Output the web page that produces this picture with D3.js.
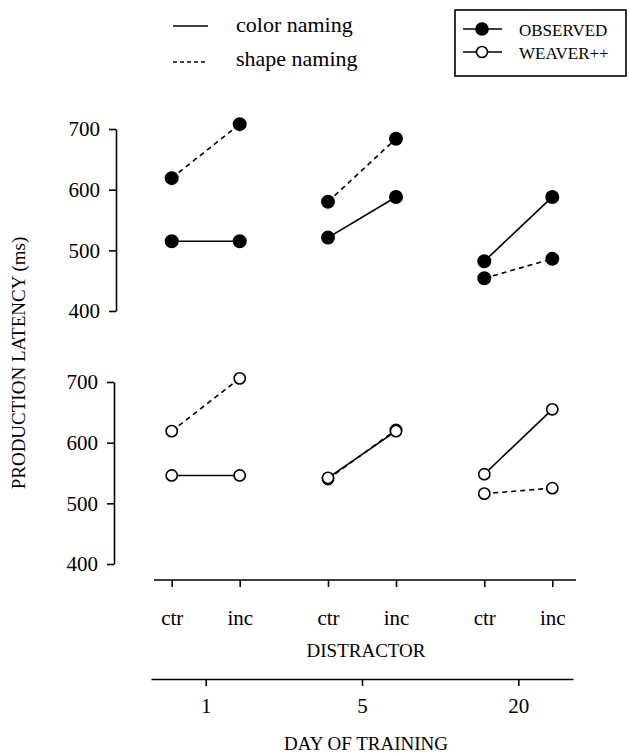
<!DOCTYPE html>
<html>
<head>
<meta charset="utf-8">
<script src="https://cdn.jsdelivr.net/npm/d3@7"></script>
<style>
  body { margin: 0; background: #fff; }
  svg { font-family: "Liberation Serif", "Times New Roman", serif; }
</style>
</head>
<body>
<svg width="629" height="753"></svg>
<script>
// days of training and distractor conditions
var days = ["1", "5", "20"];
var distractors = ["ctr", "inc"];
var yTicks = [400, 500, 600, 700];

// latencies per day: [ctr, inc]
var observedColor = [[515, 515], [521, 588], [482, 588]];
var observedShape = [[619, 708], [580, 684], [454, 486]];
var weaverColor   = [[546, 546], [542, 619], [548, 655]];
var weaverShape   = [[619, 706], [540, 621], [516, 525]];

var svg = d3.select("svg");

var xDay = d3.scalePoint().domain(days).range([151, 573]).padding(0.35);
var xDis = d3.scalePoint().domain(distractors).range([-34, 34]);

var yTop = d3.scaleLinear().domain([400, 700]).range([311, 129]);
var yBot = d3.scaleLinear().domain([400, 700]).range([564, 382]);

function drawAxisY(scale, x) {
  var g = svg.append("g")
    .attr("transform", "translate(" + x + ",0)")
    .call(d3.axisLeft(scale).tickValues(yTicks).tickSize(7).tickSizeOuter(0).tickPadding(9));
  g.selectAll("path, line").attr("stroke", "#000").attr("stroke-width", 1.6);
  g.selectAll("text").attr("font-size", 21).attr("font-family", "Liberation Serif").attr("fill", "#000");
}
drawAxisY(yTop, 116);
drawAxisY(yBot, 114);

function drawSeries(data, scale, dashed, filled) {
  data.forEach(function(pair, i) {
    var pts = pair.map(function(v, j) {
      return [xDay(days[i]) + xDis(distractors[j]), scale(v)];
    });
    svg.append("path")
      .attr("d", d3.line()(pts))
      .attr("fill", "none")
      .attr("stroke", "#000")
      .attr("stroke-width", 1.6)
      .attr("stroke-dasharray", dashed ? "5,4" : null);
    svg.selectAll(null).data(pts).enter().append("circle")
      .attr("cx", function(d) { return d[0]; })
      .attr("cy", function(d) { return d[1]; })
      .attr("r", filled ? 6.2 : 5.6)
      .attr("fill", filled ? "#000" : "#fff")
      .attr("stroke", "#000")
      .attr("stroke-width", 1.6);
  });
}
drawSeries(observedShape, yTop, true, true);
drawSeries(observedColor, yTop, false, true);
drawSeries(weaverShape, yBot, true, false);
drawSeries(weaverColor, yBot, false, false);

// distractor axis
var disKeys = [], disPos = [];
days.forEach(function(d) {
  distractors.forEach(function(c) {
    disKeys.push(d + "|" + c);
    disPos.push(xDay(d) + xDis(c));
  });
});
var xCond = d3.scaleOrdinal().domain(disKeys).range(disPos);
var gDis = svg.append("g")
  .attr("transform", "translate(0,580)")
  .call(d3.axisBottom(xCond).tickSize(7).tickPadding(23)
    .tickFormat(function(k) { return k.split("|")[1]; }));
gDis.select(".domain").remove();
gDis.append("line")
  .attr("x1", xDay.range()[0] + 3).attr("x2", xDay.range()[1] + 3)
  .attr("stroke", "#000").attr("stroke-width", 1.6);
gDis.selectAll("line").attr("stroke", "#000").attr("stroke-width", 1.6);
gDis.selectAll("text").attr("font-size", 21).attr("font-family", "Liberation Serif").attr("fill", "#000");

// day axis
var gDay = svg.append("g")
  .attr("transform", "translate(0,679)")
  .call(d3.axisBottom(xDay).tickSize(7).tickSizeOuter(0).tickPadding(12));
gDay.selectAll("path, line").attr("stroke", "#000").attr("stroke-width", 1.6);
gDay.selectAll("text").attr("font-size", 21).attr("font-family", "Liberation Serif").attr("fill", "#000");

// axis titles
svg.append("text").attr("x", 366).attr("y", 657).attr("text-anchor", "middle")
  .attr("font-size", 19).text("DISTRACTOR");
svg.append("text").attr("x", 366).attr("y", 750).attr("text-anchor", "middle")
  .attr("font-size", 19).text("DAY OF TRAINING");
svg.append("text").attr("transform", "translate(25,363) rotate(-90)")
  .attr("text-anchor", "middle").attr("font-size", 19).text("PRODUCTION LATENCY (ms)");

// line-style legend
svg.append("line").attr("x1", 173).attr("x2", 208).attr("y1", 26).attr("y2", 26)
  .attr("stroke", "#000").attr("stroke-width", 1.6);
svg.append("line").attr("x1", 173).attr("x2", 208).attr("y1", 62).attr("y2", 62)
  .attr("stroke", "#000").attr("stroke-width", 1.6).attr("stroke-dasharray", "4,3");
svg.append("text").attr("x", 236).attr("y", 32).attr("font-size", 22).text("color naming");
svg.append("text").attr("x", 236).attr("y", 66).attr("font-size", 22).text("shape naming");

// marker legend
svg.append("rect").attr("x", 455).attr("y", 10).attr("width", 171).attr("height", 66)
  .attr("fill", "none").attr("stroke", "#000").attr("stroke-width", 1.6);
[["OBSERVED", true, 29], ["WEAVER++", false, 52]].forEach(function(e) {
  svg.append("line").attr("x1", 463).attr("x2", 502).attr("y1", e[2]).attr("y2", e[2])
    .attr("stroke", "#000").attr("stroke-width", 1.6);
  svg.append("circle").attr("cx", 482).attr("cy", e[2]).attr("r", e[1] ? 6 : 5.5)
    .attr("fill", e[1] ? "#000" : "#fff").attr("stroke", "#000").attr("stroke-width", 1.6);
  svg.append("text").attr("x", 519).attr("y", e[2] + 7).attr("font-size", 17).text(e[0]);
});
</script>
</body>
</html>
